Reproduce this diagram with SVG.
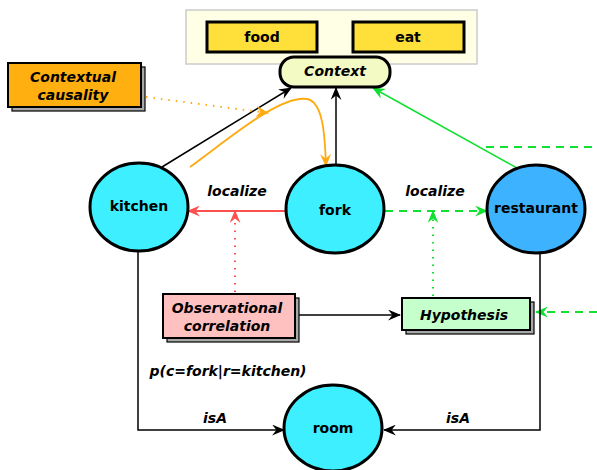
<svg xmlns="http://www.w3.org/2000/svg" width="597" height="470" viewBox="0 0 597 470">
<style>
text{font-family:"DejaVu Sans","Liberation Sans",sans-serif;font-weight:bold;font-size:14px;fill:#000;text-anchor:middle;dominant-baseline:central}
.it{font-style:oblique}
.node{stroke:#000;stroke-width:3}
.box{stroke:#000;stroke-width:2}
.shadow{fill:#a8a8a8;stroke:#000;stroke-width:1.2}
.blk{stroke:#000;stroke-width:1.5;fill:none}
</style>
<defs>
<marker id="ab" viewBox="0 0 12 10" refX="11" refY="5" markerWidth="13" markerHeight="11" markerUnits="userSpaceOnUse" orient="auto"><path d="M0,0 L12,5 L0,10 L4,5 z" fill="#000"/></marker>
<marker id="ar" viewBox="0 0 12 10" refX="11" refY="5" markerWidth="13" markerHeight="11" markerUnits="userSpaceOnUse" orient="auto"><path d="M0,0 L12,5 L0,10 L4,5 z" fill="#ff5050"/></marker>
<marker id="ag" viewBox="0 0 12 10" refX="11" refY="5" markerWidth="13" markerHeight="11" markerUnits="userSpaceOnUse" orient="auto"><path d="M0,0 L12,5 L0,10 L4,5 z" fill="#10e030"/></marker>
<marker id="ao" viewBox="0 0 12 10" refX="11" refY="5" markerWidth="13" markerHeight="11" markerUnits="userSpaceOnUse" orient="auto"><path d="M0,0 L12,5 L0,10 L4,5 z" fill="#ffaa10"/></marker>
</defs>
<rect x="186" y="10" width="291" height="54" fill="#ffffe6" stroke="#cccccc" stroke-width="1.5"/>
<g id="connectors">
<line class="blk" x1="162" y1="167" x2="291" y2="88" marker-end="url(#ab)"/>
<line class="blk" x1="336" y1="165" x2="336" y2="88" marker-end="url(#ab)"/>
<line x1="517" y1="168" x2="373" y2="88" stroke="#10e030" stroke-width="1.5" marker-end="url(#ag)"/>
<path d="M190,167 C 230,138 280,95 307,99 C 324,102 325,140 326,166" fill="none" stroke="#ffaa10" stroke-width="1.8" marker-end="url(#ao)"/>
<line x1="146" y1="97" x2="268" y2="113" stroke="#ffaa10" stroke-width="2" stroke-dasharray="1.5,6" marker-end="url(#ao)"/>
<line x1="286" y1="211" x2="188" y2="211" stroke="#ff5050" stroke-width="1.8" marker-end="url(#ar)"/>
<line x1="235" y1="292" x2="235" y2="211" stroke="#ff5050" stroke-width="2" stroke-dasharray="1.5,6" marker-end="url(#ar)"/>
<line x1="385" y1="211" x2="487" y2="211" stroke="#10e030" stroke-width="1.8" stroke-dasharray="8,6" marker-end="url(#ag)"/>
<line x1="433" y1="296" x2="433" y2="211" stroke="#10e030" stroke-width="2" stroke-dasharray="1.5,6" marker-end="url(#ag)"/>
<line x1="486" y1="147" x2="597" y2="147" stroke="#10e030" stroke-width="1.8" stroke-dasharray="8,6"/>
<line x1="597" y1="312" x2="536" y2="312" stroke="#10e030" stroke-width="1.8" stroke-dasharray="8,6" marker-end="url(#ag)"/>
<line class="blk" x1="299" y1="315" x2="400" y2="315" marker-end="url(#ab)"/>
<polyline class="blk" points="138,252 138,430 284,430" marker-end="url(#ab)"/>
<polyline class="blk" points="540,254 540,430 384,430" marker-end="url(#ab)"/>
</g>
<g id="food"><rect class="node" x="207" y="22" width="110" height="30" fill="#ffe03a"/><text x="262" y="37">food</text></g>
<g id="eat"><rect class="node" x="353" y="22" width="111" height="30" fill="#ffe03a"/><text x="408" y="37">eat</text></g>
<g id="context"><rect class="node" x="280" y="57" width="110" height="30" rx="14" fill="#f4fac4"/><text class="it" x="335" y="71">Context</text></g>
<g id="contextual-causality"><rect class="shadow" x="12" y="67" width="133" height="44"/><rect class="box" x="8" y="63" width="133" height="44" fill="#ffb010"/><text class="it" x="73" y="77">Contextual</text><text class="it" x="73" y="95">causality</text></g>
<g id="kitchen"><ellipse class="node" cx="139" cy="207" rx="49" ry="44" fill="#3ef0ff"/><text x="139" y="206">kitchen</text></g>
<g id="fork"><ellipse class="node" cx="335" cy="209" rx="49" ry="44" fill="#3ef0ff"/><text x="335" y="210">fork</text></g>
<g id="restaurant"><ellipse class="node" cx="536" cy="209" rx="49" ry="44" fill="#3db3ff"/><text x="536" y="208">restaurant</text></g>
<g id="room"><ellipse class="node" cx="333" cy="428" rx="49" ry="43" fill="#3ef0ff"/><text x="333" y="428">room</text></g>
<g id="observational-correlation"><rect class="shadow" x="167" y="298" width="132" height="44"/><rect class="box" x="163" y="294" width="132" height="44" fill="#ffc0c0"/><text class="it" x="227" y="308">Observational</text><text class="it" x="227" y="326">correlation</text></g>
<g id="hypothesis"><rect class="shadow" x="406" y="302" width="128" height="32"/><rect class="box" x="402" y="298" width="128" height="32" fill="#c4ffcc"/><text class="it" x="464" y="315">Hypothesis</text></g>
<g id="labels">
<text class="it" x="237" y="191">localize</text>
<text class="it" x="435" y="191">localize</text>
<text class="it" x="228" y="371">p(c=fork|r=kitchen)</text>
<text class="it" x="215" y="418">isA</text>
<text class="it" x="458" y="418">isA</text>
</g>
</svg>
